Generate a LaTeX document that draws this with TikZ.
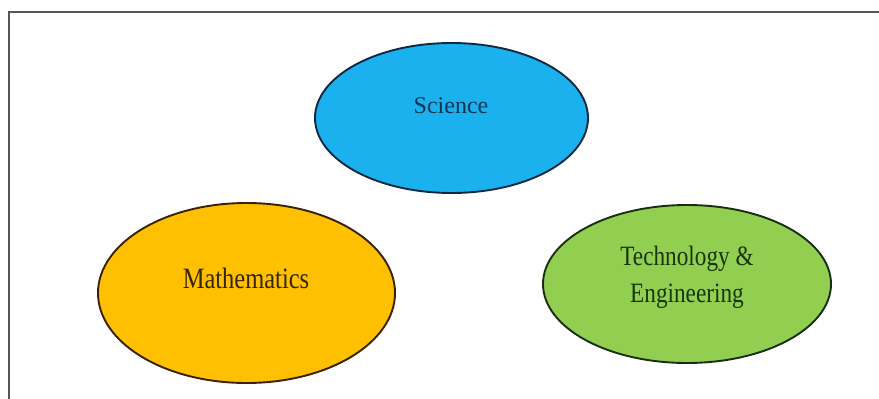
\documentclass[tikz,border=0pt]{standalone}
\usepackage{fontspec}
\setmainfont{Liberation Serif}
\newfontfamily\narrowserif[FakeStretch=0.83]{Liberation Serif}
\usetikzlibrary{shapes.geometric}
\definecolor{scifill}{HTML}{1BB1EE}
\definecolor{mathfill}{HTML}{FEC000}
\definecolor{techfill}{HTML}{92CF50}
\definecolor{sciline}{HTML}{0F2A40}
\definecolor{mathline}{HTML}{3A2208}
\definecolor{techline}{HTML}{1A2E12}
\definecolor{scitext}{HTML}{0C3654}
\definecolor{mathtext}{HTML}{352504}
\definecolor{techtext}{HTML}{17360C}
\definecolor{framegray}{HTML}{555555}
\tikzset{
  blob/.style={shape=ellipse, draw, line width=1.9pt, inner sep=0pt},
  lbl/.style={inner sep=0pt, outer sep=0pt},
}
\begin{document}
\begin{tikzpicture}[x=1pt,y=-1pt]
\useasboundingbox (0,0) rectangle (879,399);
% frame (left and top edges visible)
\coordinate (fbl) at (9,400);
\coordinate (ftl) at (9,11.7);
\coordinate (ftr) at (880,11.7);
\draw[framegray, line width=2pt] (fbl) -- (ftl) -- (ftr);
% ellipses
\node[blob, draw=sciline, fill=scifill, minimum width=273pt, minimum height=150pt] (science) at (451.5,118) {};
\node[blob, draw=mathline, fill=mathfill, minimum width=297pt, minimum height=180pt] (maths) at (246.5,293) {};
\node[blob, draw=techline, fill=techfill, minimum width=288pt, minimum height=158pt] (tech) at (687,284) {};
% labels
\node[lbl, anchor=base, text=scitext, font=\fontsize{24}{28}\selectfont] (sciencetext) at (451,113) {Science};
\node[lbl, anchor=base, text=mathtext, font=\narrowserif\fontsize{29.5}{34}\selectfont] (mathstext) at (246,288) {Mathematics};
\node[lbl, anchor=center, align=center, text=techtext, font=\narrowserif\fontsize{28}{36.6}\selectfont] (techtext) at (687,277.5) {Technology \&\\Engineering};
\end{tikzpicture}
\end{document}
